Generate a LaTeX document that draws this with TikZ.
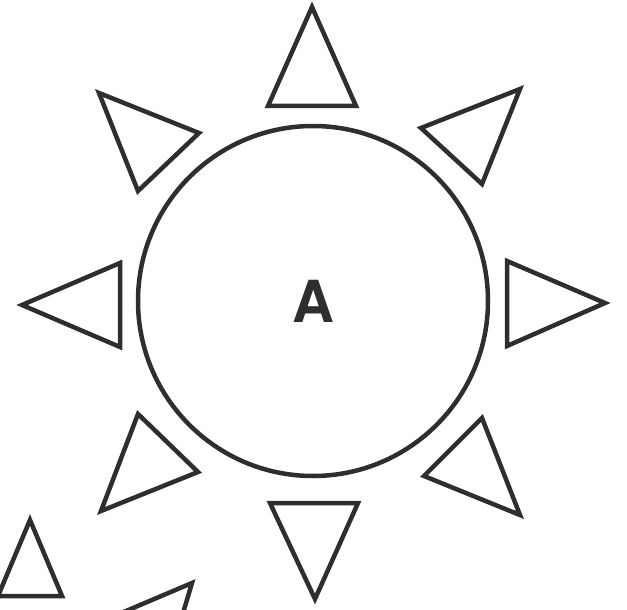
\documentclass[tikz,border=0pt]{standalone}
\usepackage{fontspec}
\setsansfont{TeX Gyre Heros}
\definecolor{ink}{HTML}{2E2E2E}
\begin{document}
\begin{tikzpicture}[x=1pt,y=-1pt,
  ray/.style={draw=ink,line width=4.5pt,line join=miter},
  sun/.style={circle,draw=ink,line width=4.5pt,minimum size=350pt,inner sep=0pt,
    font=\fontsize{58}{58}\selectfont\sffamily\bfseries,text=ink}]
\useasboundingbox (0,0) rectangle (627,610);
\node[sun] (c) at (313,301) {A};
% top
\draw[ray] (312,7) -- (268,106) -- (356,106) -- cycle;
% bottom
\draw[ray] (270,503) -- (358,503) -- (315,599) -- cycle;
% left
\draw[ray] (22,305) -- (120,263) -- (120,347) -- cycle;
% right
\draw[ray] (507,261) -- (605,303) -- (507,346) -- cycle;
% top-left
\draw[ray] (99,93) -- (199,133) -- (138,191) -- cycle;
% top-right
\draw[ray] (520,89) -- (482,184) -- (421,128) -- cycle;
% bottom-left
\draw[ray] (138,414) -- (198,472) -- (101,511) -- cycle;
% bottom-right
\draw[ray] (482,418) -- (520,515) -- (424,476) -- cycle;
% partial triangles at the bottom left
\begin{scope}
\clip (0,0) rectangle (627,610);
\draw[ray] (30,520) -- (62,596) -- (-2,596) -- cycle;
\draw[ray] (192,583) -- (100,622) -- (175,640) -- cycle;
\end{scope}
\end{tikzpicture}
\end{document}
